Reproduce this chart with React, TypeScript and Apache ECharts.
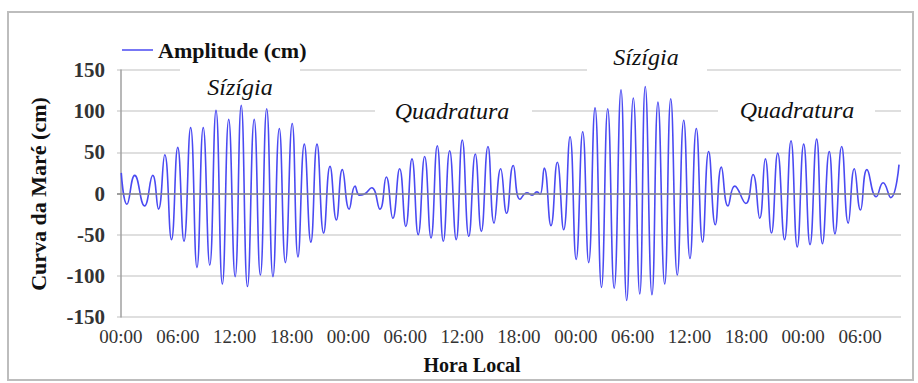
import React, { useEffect, useRef } from "react";
import * as echarts from "echarts";

// Tide curve extrema (hours since first 00:00, cm)
const tideHours = [
  0.03, 0.63, 1.45, 2.48, 3.35, 3.96, 4.62, 5.33, 5.99, 6.65,
  7.35, 8.02, 8.68, 9.37, 10.03, 10.7, 11.37, 12.05, 12.69, 13.35,
  14.06, 14.71, 15.38, 16.04, 16.71, 17.35, 18.07, 18.68, 19.35, 20.04,
  20.69, 21.39, 22.06, 22.73, 23.36, 24.08, 24.7, 25.17, 25.65, 26.46,
  27.33, 28.0, 28.69, 29.41, 30.06, 30.71, 31.37, 32.05, 32.72, 33.38,
  34.02, 34.69, 35.38, 36.02, 36.71, 37.39, 38.03, 38.73, 39.37, 40.07,
  40.7, 41.4, 42.11, 42.85, 43.38, 43.9, 44.22, 44.67, 45.38, 46.05,
  46.72, 47.39, 48.04, 48.73, 49.36, 50.03, 50.71, 51.37, 52.05, 52.77,
  53.37, 54.07, 54.75, 55.33, 56.04, 56.67, 57.38, 58.02, 58.71, 59.39,
  60.05, 60.72, 61.38, 62.02, 62.72, 63.36, 64.06, 64.77, 65.94, 66.7,
  67.41, 68.0, 68.65, 69.31, 70.03, 70.71, 71.37, 72.05, 72.72, 73.42,
  74.03, 74.75, 75.35, 76.06, 76.75, 77.39, 78.04, 78.73, 79.7, 80.43,
  81.24, 82.11,
];
const tideCm = [
  25, -13, 22, -15, 22, -19, 47, -56, 56, -58,
  80, -90, 80, -87, 101, -110, 90, -101, 107, -113,
  90, -99, 103, -101, 79, -84, 85, -77, 60, -59,
  60, -48, 33, -32, 29, -19, 9, -2, -1, 7,
  -19, 20, -30, 30, -40, 42, -50, 45, -54, 58,
  -58, 52, -56, 65, -52, 48, -46, 57, -36, 30,
  -24, 34, -7, 1, -2, 2, -1, 31, -39, 38,
  -44, 69, -80, 75, -84, 104, -114, 103, -115, 126,
  -130, 116, -122, 130, -123, 111, -110, 115, -99, 89,
  -79, 79, -59, 51, -38, 32, -15, 9, -12, 23,
  -30, 42, -48, 49, -56, 64, -65, 60, -62, 66,
  -61, 51, -49, 57, -36, 30, -20, 29, -4, 13,
  -5, 35,
];
const xTickHours = [0, 6, 12, 18, 24, 30, 36, 42, 48, 54, 60, 66, 72, 78];
const yTicks = { min: -150, max: 150, interval: 50 };
const seriesName = "Amplitude (cm)";
const xTitle = "Hora Local";
const yTitle = "Curva da Maré (cm)";
const phaseLabels = ["Sízígia", "Quadratura", "Sízígia", "Quadratura"];

const SERIF = '"Liberation Serif", "Times New Roman", serif';

export default function App() {
  const ref = useRef<HTMLDivElement>(null);
  useEffect(() => {
    if (!ref.current) return;
    const chart = echarts.init(ref.current, undefined, { renderer: "svg" });
    const data = tideHours.map((h, i) => [h, tideCm[i]]);
    const boxes = [
      { x: 180, y: 62, w: 120, h: 38, cx: 240, cy: 87 },
      { x: 375, y: 86, w: 157, h: 41, cx: 452, cy: 111 },
      { x: 587, y: 38, w: 120, h: 38, cx: 646, cy: 57 },
      { x: 718, y: 90, w: 157, h: 38, cx: 797, cy: 110 },
    ];
    const graphics: any[] = [
      {
        type: "rect",
        z: 0,
        shape: { x: 8, y: 12, width: 905, height: 368 },
        style: { fill: "none", stroke: "#bdbdbd", lineWidth: 2 },
      },
      {
        type: "text",
        x: 38,
        y: 194,
        rotation: Math.PI / 2,
        style: {
          text: yTitle,
          font: `bold 22px ${SERIF}`,
          fill: "#111",
          align: "center",
          verticalAlign: "middle",
        },
      },
      {
        type: "text",
        x: 472,
        y: 365,
        style: {
          text: xTitle,
          font: `bold 20px ${SERIF}`,
          fill: "#111",
          align: "center",
          verticalAlign: "middle",
        },
      },
    ];
    boxes.forEach((b, i) => {
      graphics.push({
        type: "rect",
        z: 1,
        shape: { x: b.x, y: b.y, width: b.w, height: b.h },
        style: { fill: "#ffffff" },
      });
      graphics.push({
        type: "text",
        z: 1,
        x: b.cx,
        y: b.cy,
        style: {
          text: phaseLabels[i],
          font: `italic 24px ${SERIF}`,
          fill: "#111",
          align: "center",
          verticalAlign: "middle",
        },
      });
    });
    const pad = (n: number) => (n < 10 ? "0" + n : "" + n);
    chart.setOption({
      animation: false,
      backgroundColor: "#ffffff",
      textStyle: { fontFamily: SERIF },
      grid: { left: 117, right: 17, top: 70, bottom: 66, containLabel: false },
      legend: {
        left: 117,
        top: 34,
        itemWidth: 31,
        itemHeight: 14,
        data: [{ name: seriesName, icon: "path://M0,6 L31,6 L31,7.5 L0,7.5 Z" }],
        textStyle: { fontFamily: SERIF, fontWeight: "bold", fontSize: 22, color: "#111" },
      },
      xAxis: {
        type: "value",
        min: -0.42,
        max: 82.32,
        axisLine: { show: false },
        axisTick: { show: false },
        splitLine: { show: false },
        axisLabel: {
          customValues: xTickHours,
          formatter: (v: number) => pad(Math.round(v) % 24) + ":00",
          fontFamily: SERIF,
          fontSize: 19,
          color: "#333",
          margin: 10,
          showMinLabel: true,
          showMaxLabel: true,
        },
      },
      yAxis: {
        type: "value",
        min: yTicks.min,
        max: yTicks.max,
        interval: yTicks.interval,
        axisLine: { show: true, lineStyle: { color: "#a0a0a0", width: 1.5 } },
        axisTick: { show: false },
        splitLine: { show: true, lineStyle: { color: "#d4d4d4", width: 1.5 } },
        axisLabel: {
          fontFamily: SERIF,
          fontSize: 21,
          fontWeight: "bold",
          color: "#333",
          margin: 12,
        },
      },
      graphic: graphics,
      series: [
        {
          name: seriesName,
          type: "line",
          data,
          smooth: 0.5,
          symbol: "none",
          z: 3,
          lineStyle: { color: "#4a4af2", width: 1.6 },
          itemStyle: { color: "#4a4af2" },
          markLine: {
            silent: true,
            symbol: "none",
            label: { show: false },
            lineStyle: { color: "#8a8a8a", width: 1.5, type: "solid" },
            data: [{ yAxis: 0 }],
          },
        },
      ],
    });
    return () => chart.dispose();
  }, []);
  return (
    <div
      ref={ref}
      style={{ position: "fixed", left: 0, top: 0, width: 918, height: 383 }}
    />
  );
}
